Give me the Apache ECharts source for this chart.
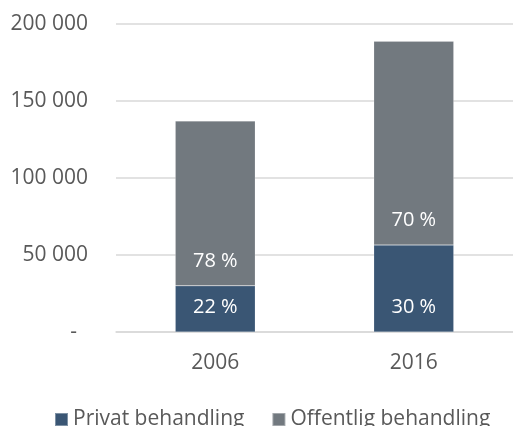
<!DOCTYPE html>
<html>
<head>
<meta charset="utf-8">
<script src="https://cdn.jsdelivr.net/npm/echarts@6/dist/echarts.min.js"></script>
<style>
  html, body { margin: 0; padding: 0; background: #fff; }
  #main { width: 513px; height: 426px; }
</style>
</head>
<body>
<div id="main"></div>
<script>
// år
var years = ['2006', '2016'];
// antall behandlinger
var privat = [30000, 56500];
var offentlig = [107000, 132300];
// andeler som vist i søylene
var privatPct = ['22 %', '30 %'];
var offentligPct = ['78 %', '70 %'];
var yTicks = [0, 50000, 100000, 150000, 200000];

var chart = echarts.init(document.getElementById('main'));

function fmt(v) {
  if (v === 0) return '-  ';
  return String(v).replace(/\B(?=(\d{3})+(?!\d))/g, ' ');
}

var labelStyle = {
  show: true,
  position: 'insideBottom',
  distance: 15,
  color: '#fff',
  fontSize: 20,
  fontFamily: 'Open Sans'
};

var option = {
  animation: false,
  textStyle: { fontFamily: 'Open Sans' },
  grid: { left: 116, top: 24, width: 400, height: 308 },
  legend: {
    left: 49,
    top: 404,
    itemWidth: 13,
    itemHeight: 13,
    itemGap: 27,
    icon: 'rect',
    textStyle: { color: '#595959', fontSize: 21, fontFamily: 'Open Sans' },
    data: ['Privat behandling', 'Offentlig behandling']
  },
  xAxis: {
    type: 'category',
    data: years,
    axisLine: { lineStyle: { color: '#d9d9d9', width: 1.5 } },
    axisTick: { show: false },
    axisLabel: { color: '#595959', fontSize: 21, margin: 21 }
  },
  yAxis: {
    type: 'value',
    min: 0,
    max: yTicks[yTicks.length - 1],
    interval: 50000,
    axisLine: { show: false },
    axisTick: { show: false },
    splitLine: { lineStyle: { color: '#d9d9d9', width: 1.5 } },
    axisLabel: {
      color: '#595959',
      fontSize: 21,
      margin: 28,
      formatter: fmt
    }
  },
  series: [
    {
      name: 'Privat behandling',
      type: 'bar',
      stack: 'tot',
      barWidth: 80,
      data: privat,
      itemStyle: { color: '#3a5674', borderColor: 'rgba(255,255,255,0.35)', borderWidth: 0.5 },
      label: Object.assign({}, labelStyle, {
        formatter: function (p) { return privatPct[p.dataIndex]; }
      })
    },
    {
      name: 'Offentlig behandling',
      type: 'bar',
      stack: 'tot',
      barWidth: 80,
      data: offentlig,
      itemStyle: { color: '#72797f', borderColor: 'rgba(255,255,255,0.35)', borderWidth: 0.5 },
      label: Object.assign({}, labelStyle, {
        formatter: function (p) { return offentligPct[p.dataIndex]; }
      })
    }
  ]
};

chart.setOption(option);
</script>
</body>
</html>
